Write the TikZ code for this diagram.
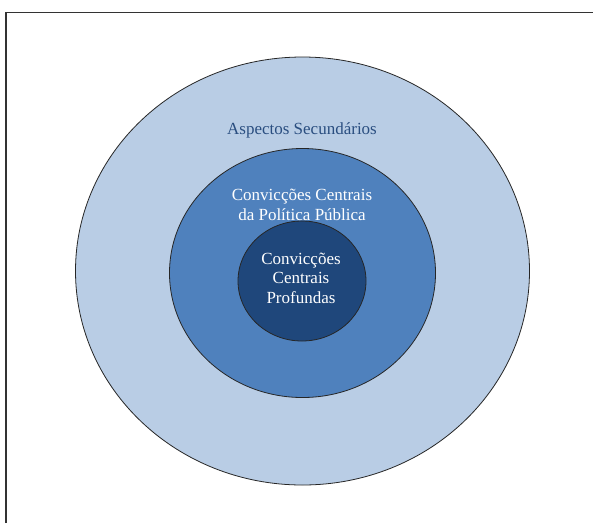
\documentclass[tikz,border=0pt]{standalone}
\usepackage{fontspec}
\setmainfont{Liberation Serif}
\usetikzlibrary{shapes.geometric}
\definecolor{outerblue}{HTML}{B9CDE5}
\definecolor{midblue}{HTML}{4F81BD}
\definecolor{innerblue}{HTML}{1F477B}
\definecolor{labelblue}{HTML}{2A4E80}
\begin{document}
\begin{tikzpicture}[x=1pt,y=-1pt,
  ring/.style={ellipse, draw=black!85, line width=0.8pt, inner sep=0pt},
  lbl/.style={align=center, inner sep=0pt, font=\fontsize{17}{19.5}\selectfont, text=white}]
\useasboundingbox (0,0) rectangle (593,523);
\fill[white] (0,0) rectangle (593,523);
\coordinate (fb) at (6,523);
\coordinate (fc) at (6,12.5);
\coordinate (fr) at (593,12.5);
\draw[line width=1.3pt, black!80] (fb) -- (fc) -- (fr);
\node[ring, fill=outerblue, minimum width=454pt, minimum height=428pt] (outer) at (302.5,271) {};
\node[ring, fill=midblue, minimum width=266pt, minimum height=249pt] (middle) at (302.5,273) {};
\node[ring, fill=innerblue, minimum width=128pt, minimum height=120pt] (inner) at (302,281) {};
\node[lbl, text=labelblue] (tsec) at (302,130) {Aspectos Secundários};
\node[lbl] (tmid) at (302,205) {Convicções Centrais\\da Política Pública};
\node[lbl] (tinn) at (301,278) {Convicções\\Centrais\\Profundas};
\end{tikzpicture}
\end{document}
